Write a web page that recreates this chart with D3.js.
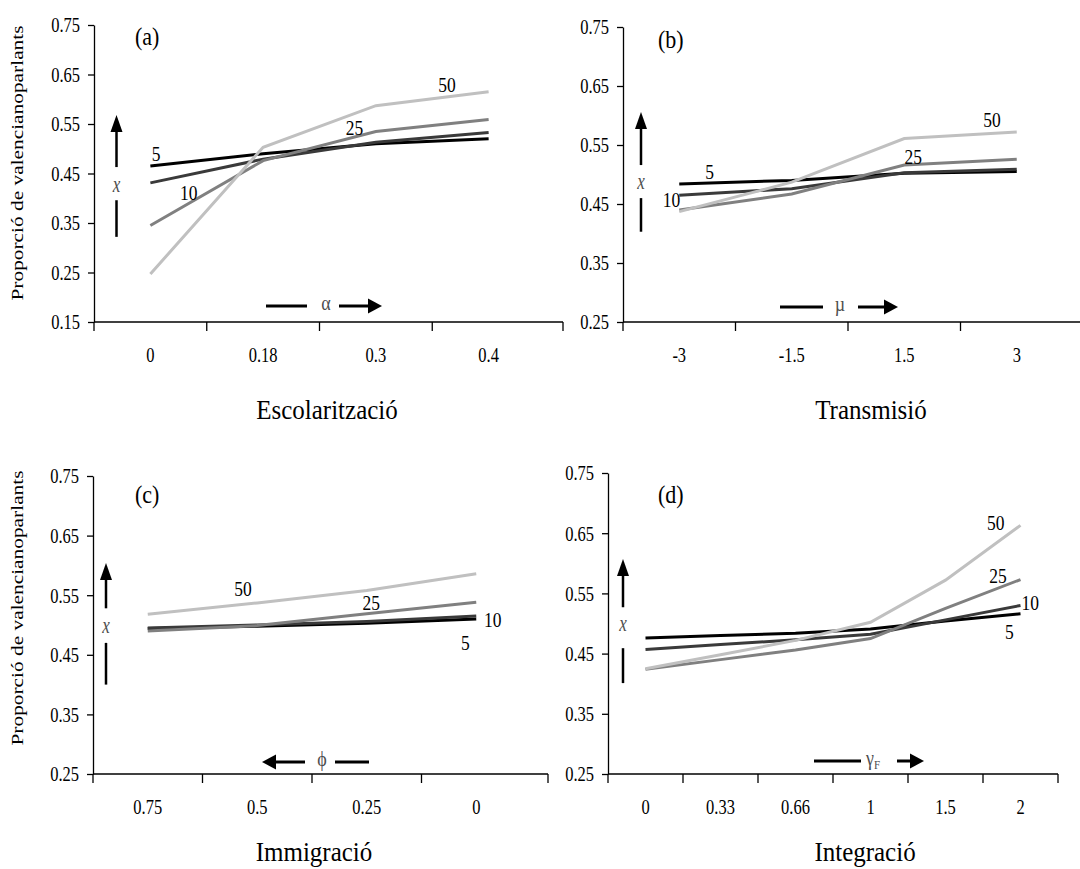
<!DOCTYPE html>
<html>
<head>
<meta charset="utf-8">
<script src="https://cdn.jsdelivr.net/npm/d3@7"></script>
<style>
  body { margin: 0; background: #fff; }
  svg { display: block; }
  text { font-family: "Liberation Serif", "Times New Roman", serif; }
</style>
</head>
<body>
<svg id="chart" width="1080" height="869"></svg>
<script>
// ---------------------------------------------
//  Data
// ---------------------------------------------

const seriesNames = ["5", "10", "25", "50"];
const seriesColors = ["#000000", "#3a3a3a", "#808080", "#c0c0c0"];

// (a) Escolarització
const catsA = ["0", "0.18", "0.3", "0.4"];
const valsA = [
  [0.465, 0.490, 0.510, 0.520],
  [0.431, 0.479, 0.513, 0.533],
  [0.345, 0.476, 0.535, 0.559],
  [0.247, 0.503, 0.587, 0.615]
];
// label anchors: [category position, value]
const labelPosA = [[0.05, 0.490], [0.34, 0.411], [1.81, 0.543], [2.63, 0.630]];
const ticksA = [0.15, 0.25, 0.35, 0.45, 0.55, 0.65, 0.75];

// (b) Transmisió
const catsB = ["-3", "-1.5", "1.5", "3"];
const valsB = [
  [0.484, 0.490, 0.502, 0.505],
  [0.465, 0.476, 0.503, 0.509],
  [0.440, 0.467, 0.516, 0.526],
  [0.437, 0.487, 0.561, 0.572]
];
const labelPosB = [[0.27, 0.505], [-0.07, 0.458], [2.08, 0.531], [2.78, 0.593]];

// (c) Immigració
const catsC = ["0.75", "0.5", "0.25", "0"];
const valsC = [
  [0.494, 0.498, 0.503, 0.510],
  [0.495, 0.500, 0.506, 0.515],
  [0.490, 0.499, 0.519, 0.538],
  [0.518, 0.537, 0.558, 0.586]
];
const labelPosC = [[2.9, 0.471], [3.15, 0.509], [2.04, 0.537], [0.87, 0.561]];

// (d) Integració
const catsD = ["0", "0.33", "0.66", "1", "1.5", "2"];
const valsD = [
  [0.476, 0.480, 0.484, 0.491, 0.504, 0.516],
  [0.457, 0.465, 0.473, 0.482, 0.506, 0.530],
  [0.424, 0.440, 0.456, 0.475, 0.525, 0.573],
  [0.425, 0.448, 0.472, 0.502, 0.572, 0.663]
];
const labelPosD = [[4.85, 0.486], [5.13, 0.534], [4.70, 0.580], [4.67, 0.667]];

const ticksBCD = [0.25, 0.35, 0.45, 0.55, 0.65, 0.75];
const yTitle = "Proporció de valencianoparlants";

// ---------------------------------------------
//  Panel layout
// ---------------------------------------------

const panels = [
  { tag: "(a)", cats: catsA, vals: valsA, labelPos: labelPosA, ticks: ticksA,
    title: "Escolarització", titleX: 327, titleY: 419,
    ox: 94, bandEnd: 545, axisEnd: 563, yBottom: 322, yTop: 25,
    tagX: 135, tagY: 45, yTitleY: 163,
    vArrow: { dx: 22.5, top: 0.568, end: 0.463, x: 0.427, bar: [0.396, 0.322] },
    hArrow: { yOff: -16, dash: [172, 213], sym: 232, tail: 245, tip: 288, symbol: "α" } },
  { tag: "(b)", cats: catsB, vals: valsB, labelPos: labelPosB, ticks: ticksBCD,
    title: "Transmisió", titleX: 871, titleY: 419,
    ox: 623, bandEnd: 1073, axisEnd: 1092, yBottom: 322, yTop: 27,
    tagX: 658, tagY: 48,
    vArrow: { dx: 18, top: 0.606, end: 0.516, x: 0.487, bar: [0.460, 0.403] },
    hArrow: { yOff: -15, dash: [157, 200], sym: 217, tail: 235, tip: 275, symbol: "µ" } },
  { tag: "(c)", cats: catsC, vals: valsC, labelPos: labelPosC, ticks: ticksBCD,
    title: "Immigració", titleX: 314, titleY: 861,
    ox: 93, bandEnd: 531, axisEnd: 548, yBottom: 774, yTop: 476,
    tagX: 135, tagY: 503, yTitleY: 608,
    vArrow: { dx: 13, top: 0.604, end: 0.528, x: 0.498, bar: [0.470, 0.400] },
    hArrow: { yOff: -12, dash: [242, 276], sym: 229, tail: 212, tip: 169, symbol: "ϕ" } },
  { tag: "(d)", cats: catsD, vals: valsD, labelPos: labelPosD, ticks: ticksBCD,
    title: "Integració", titleX: 865, titleY: 861,
    ox: 608, bandEnd: 1058, axisEnd: 1058, yBottom: 774, yTop: 473,
    tagX: 658, tagY: 503,
    vArrow: { dx: 15, top: 0.607, end: 0.527, x: 0.499, bar: [0.459, 0.401] },
    hArrow: { yOff: -13, dash: [206, 253], sym: 265, tail: 289, tip: 316, symbol: "γ", sub: "F" } }
];

const svg = d3.select("#chart");
svg.append("rect").attr("width", 1080).attr("height", 869).attr("fill", "#fff");

// text with a vertical stretch, like the scanned original
function stretchedText(g, x, y, str, size, sy, anchor = "middle") {
  return g.append("text")
    .attr("transform", `translate(${x},${y}) scale(1,${sy})`)
    .attr("font-size", size)
    .attr("text-anchor", anchor)
    .text(str);
}

panels.forEach(p => {
  const g = svg.append("g");
  const y = d3.scaleLinear().domain([p.ticks[0], 0.75]).range([p.yBottom, p.yTop]);
  const x = d3.scaleBand().domain(p.cats).range([p.ox, p.bandEnd]).padding(0);
  const bw = x.bandwidth();
  const cx = i => x(p.cats[0]) + bw / 2 + i * bw;

  // y axis
  g.append("g")
    .attr("transform", `translate(${p.ox},0)`)
    .call(d3.axisLeft(y).tickValues(p.ticks).tickFormat(d3.format(".2f"))
      .tickSize(6).tickSizeOuter(0).tickPadding(8))
    .call(s => s.selectAll("path, line").attr("stroke", "#000").attr("stroke-width", 1.3))
    .call(s => s.selectAll("text").attr("font-size", 16.5).attr("fill", "#000")
      .attr("transform", "scale(1,1.3)"));

  // x axis: labels at band centres, ticks between categories
  const xg = g.append("g").attr("transform", `translate(0,${p.yBottom})`)
    .call(d3.axisBottom(x).tickSize(0))
    .call(s => s.select(".domain").remove())
    .call(s => s.selectAll("text").attr("y", 0).attr("dy", 0)
      .attr("font-size", 16.5).attr("fill", "#000")
      .attr("transform", "translate(0,40) scale(1,1.3)"));
  xg.append("line").attr("x1", p.ox).attr("x2", p.axisEnd)
    .attr("stroke", "#000").attr("stroke-width", 1.3);
  xg.selectAll(".xt").data([...p.cats.map(c => x(c)), p.axisEnd]).enter()
    .append("line").attr("class", "xt")
    .attr("x1", d => d).attr("x2", d => d).attr("y1", 0).attr("y2", 9)
    .attr("stroke", "#000").attr("stroke-width", 1.3);

  // series lines
  const line = d3.line().x((d, i) => cx(i)).y(d => y(d));
  p.vals.forEach((v, si) => {
    g.append("path").datum(v).attr("d", line)
      .attr("fill", "none").attr("stroke", seriesColors[si]).attr("stroke-width", 3);
  });

  // series labels
  p.labelPos.forEach((lp, si) => {
    stretchedText(g, cx(lp[0]), y(lp[1]), seriesNames[si], 17.5, 1.2).attr("dy", "0.35em");
  });

  // panel tag and titles
  stretchedText(g, p.tagX, p.tagY, p.tag, 22, 1.1, "start");
  stretchedText(g, p.titleX, p.titleY, p.title, 25, 1.08);
  if (p.yTitleY) {
    g.append("text")
      .attr("transform", `translate(22.5,${p.yTitleY}) rotate(-90) scale(1.22,1)`)
      .attr("font-size", 17.5).attr("text-anchor", "middle").text(yTitle);
  }

  // vertical x arrow
  const va = p.vArrow, ax = p.ox + va.dx, top = y(va.top);
  g.append("path")
    .attr("d", `M${ax - 6},${top + 17} L${ax},${top} L${ax + 6},${top + 17} Z`).attr("fill", "#000");
  g.append("line").attr("x1", ax).attr("x2", ax).attr("y1", top + 14).attr("y2", y(va.end))
    .attr("stroke", "#000").attr("stroke-width", 2.5);
  stretchedText(g, ax, y(va.x), "x", 17, 1.3).attr("dy", "0.3em")
    .attr("font-style", "italic").attr("fill", "#4d4d4d");
  g.append("line").attr("x1", ax).attr("x2", ax).attr("y1", y(va.bar[0])).attr("y2", y(va.bar[1]))
    .attr("stroke", "#000").attr("stroke-width", 2.5);

  // horizontal parameter arrow
  const ha = p.hArrow, hy = p.yBottom + ha.yOff;
  g.append("line").attr("x1", p.ox + ha.dash[0]).attr("x2", p.ox + ha.dash[1])
    .attr("y1", hy).attr("y2", hy).attr("stroke", "#000").attr("stroke-width", 3);
  const dir = Math.sign(ha.tip - ha.tail), tipX = p.ox + ha.tip;
  g.append("line").attr("x1", p.ox + ha.tail).attr("x2", tipX - dir * 12)
    .attr("y1", hy).attr("y2", hy).attr("stroke", "#000").attr("stroke-width", 3);
  g.append("path")
    .attr("d", `M${tipX - dir * 14},${hy - 7.5} L${tipX},${hy} L${tipX - dir * 14},${hy + 7.5} Z`)
    .attr("fill", "#000");
  const sym = stretchedText(g, p.ox + ha.sym, hy + 4, ha.symbol, 18, 1.2).attr("fill", "#4d4d4d");
  if (ha.sub) {
    sym.append("tspan").attr("font-size", 11).attr("dy", 3).text(ha.sub);
  }
});
</script>
</body>
</html>
